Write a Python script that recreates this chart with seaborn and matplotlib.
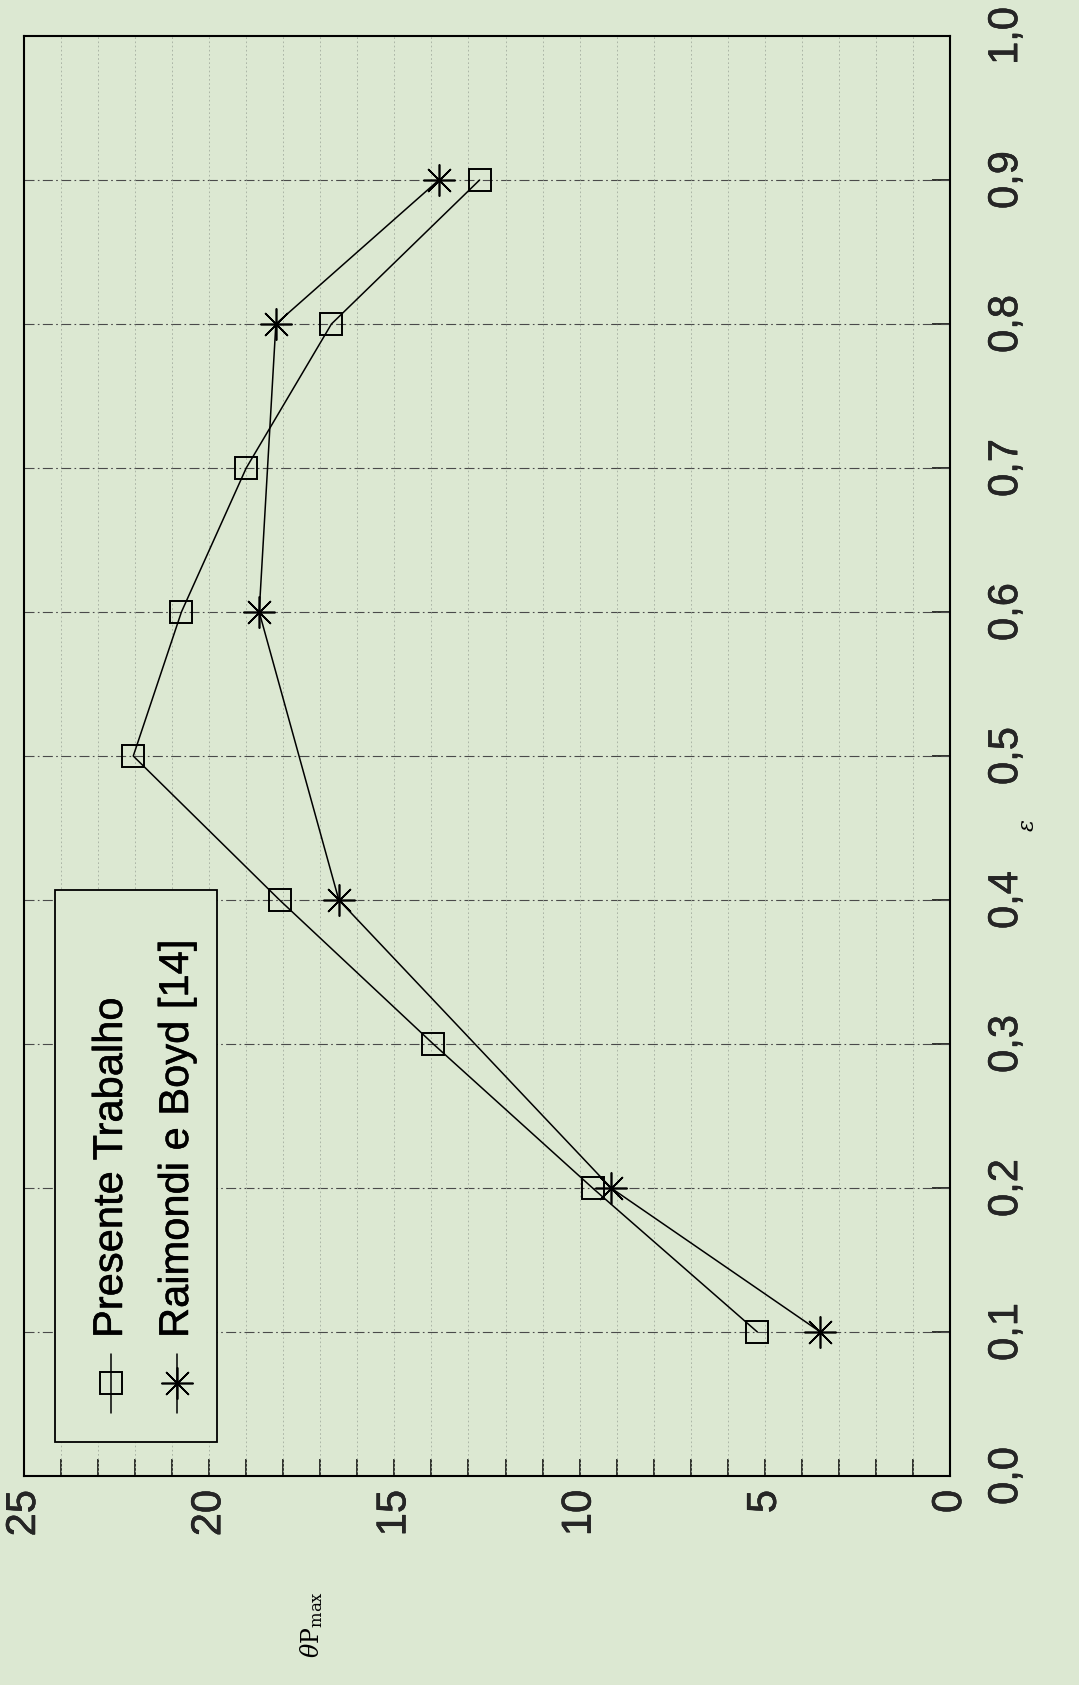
import numpy as np
import pandas as pd
import matplotlib
matplotlib.use("Agg")
import matplotlib.pyplot as plt
import matplotlib.patheffects as pe
import seaborn as sns
from matplotlib.lines import Line2D
from matplotlib.patches import Rectangle
from matplotlib.ticker import MultipleLocator, FixedLocator, FixedFormatter

# --- data -----------------------------------------------------------------
eps_presente = [0.1, 0.2, 0.3, 0.4, 0.5, 0.6, 0.7, 0.8, 0.9]
theta_presente = [5.2, 9.65, 13.95, 18.1, 22.05, 20.75, 19.0, 16.7, 12.7]

eps_raimondi = [0.1, 0.2, 0.4, 0.6, 0.8, 0.9]
theta_raimondi = [3.5, 9.15, 16.5, 18.65, 18.2, 13.8]

theta_ticks = [0, 5, 10, 15, 20, 25]
theta_tick_labels = ["0", "5", "10", "15", "20", "25"]
eps_ticks = [0.0, 0.1, 0.2, 0.3, 0.4, 0.5, 0.6, 0.7, 0.8, 0.9, 1.0]
eps_tick_labels = ["0,0", "0,1", "0,2", "0,3", "0,4", "0,5",
                   "0,6", "0,7", "0,8", "0,9", "1,0"]
series_labels = ["Presente Trabalho", "Raimondi e Boyd [14]"]

# --- figure layout (page is printed sideways) -----------------------------
W, H, DPI = 1079, 1685, 100
BG = "#dce8d2"
AX_L, AX_T, AX_R, AX_B = 24, 36, 950, 1476
INK = [pe.withStroke(linewidth=0.35, foreground="black")]

sns.set_theme(style="white")
plt.rcParams["font.family"] = ["Liberation Sans", "DejaVu Sans"]
plt.rcParams["mathtext.fontset"] = "dejavuserif"

fig = plt.figure(figsize=(W / DPI, H / DPI), dpi=DPI, facecolor=BG)
ax = fig.add_axes([AX_L / W, 1 - AX_B / H, (AX_R - AX_L) / W, (AX_B - AX_T) / H])
ax.set_facecolor(BG)


def fx(px):
    return (px - AX_L) / (AX_R - AX_L)


def fy(py):
    return (AX_B - py) / (AX_B - AX_T)


df_p = pd.DataFrame({"theta": theta_presente, "eps": eps_presente})
df_r = pd.DataFrame({"theta": theta_raimondi, "eps": eps_raimondi})

square_kw = dict(marker="s", markersize=16, markerfacecolor="none",
                 markeredgecolor="black", markeredgewidth=1.4)
star_kw = dict(marker=(8, 2, 0), markersize=23, markeredgecolor="black",
               markeredgewidth=1.2)

sns.lineplot(data=df_p, x="theta", y="eps", sort=False, estimator=None, ax=ax,
             color="black", lw=1.1, zorder=4, **square_kw)
sns.lineplot(data=df_r, x="theta", y="eps", sort=False, estimator=None, ax=ax,
             color="black", lw=1.1, zorder=4, **star_kw)

ax.set_xlim(25, 0)
ax.set_ylim(0, 1)
ax.set_xlabel("")
ax.set_ylabel("")

# theta axis runs along the bottom edge
ax.xaxis.set_major_locator(FixedLocator(theta_ticks))
ax.xaxis.set_major_formatter(FixedFormatter(theta_tick_labels))
ax.xaxis.set_minor_locator(MultipleLocator(1))
ax.tick_params(axis="x", which="both", direction="in", bottom=True, top=False,
               length=12, width=1.1, color="black")
ax.tick_params(axis="x", which="major", pad=10, labelsize=30, labelrotation=90)

# epsilon axis runs along the right edge
ax.yaxis.tick_right()
ax.yaxis.set_major_locator(FixedLocator(eps_ticks))
ax.yaxis.set_major_formatter(FixedFormatter(eps_tick_labels))
ax.tick_params(axis="y", which="major", direction="in", right=True, left=False,
               length=13, width=1.1, color="black", pad=26, labelsize=30,
               labelrotation=90)
for lab in ax.get_yticklabels():
    lab.set_verticalalignment("center")
    lab.set_horizontalalignment("left")
    lab.set_path_effects(INK)
for lab in ax.get_xticklabels():
    lab.set_path_effects(INK)

# grids
ax.grid(False)
for e in eps_ticks[1:-1]:
    ax.axhline(e, color="#4a4a4a", lw=0.8, ls=(0, (9, 3, 1.5, 3)), zorder=1)
for t in range(1, 25):
    ax.axvline(t, color="#a3ad9f", lw=0.6, ls=(0, (2, 3)), zorder=1)

for sp in ax.spines.values():
    sp.set_color("black")
    sp.set_linewidth(1.5)
    sp.set_visible(True)

# legend box drawn sideways
ax.add_patch(Rectangle((fx(55), fy(1442)), fx(217) - fx(55), fy(890) - fy(1442),
                       transform=ax.transAxes, facecolor=BG, edgecolor="black",
                       lw=1.3, zorder=6))
legend_x = [111, 177]
for xpx, lab, mk in zip(legend_x, series_labels, [square_kw, star_kw]):
    ax.add_line(Line2D([fx(xpx), fx(xpx)], [fy(1354), fy(1413)],
                       transform=ax.transAxes, color="black", lw=1.1, zorder=7))
    ax.add_line(Line2D([fx(xpx)], [fy(1383)], transform=ax.transAxes,
                       color="black", lw=0, zorder=7, **mk))
    ax.text(fx(xpx), fy(1338), lab, transform=ax.transAxes, rotation=90,
            ha="center", va="bottom", fontsize=30, color="black", zorder=7,
            path_effects=INK)

# axis titles
fig.text(312 / W, 1 - 1625 / H, r"$\theta\mathrm{P}_{\mathrm{max}}$", rotation=90,
         ha="center", va="center", fontsize=17, color="black")
fig.text(1028 / W, 1 - 825 / H, r"$\varepsilon$", rotation=90,
         ha="center", va="center", fontsize=16, color="black")

fig.savefig("out.png", dpi=DPI, facecolor=BG)
